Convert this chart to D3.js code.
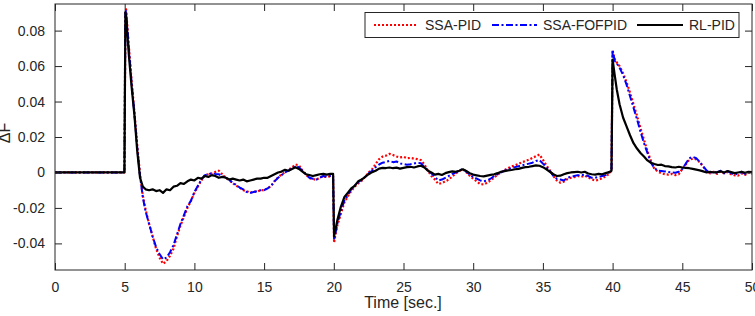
<!DOCTYPE html>
<html><head><meta charset="utf-8">
<script src="https://cdn.jsdelivr.net/npm/d3@7"></script>
<style>body{margin:0;background:#fff}svg{display:block;font-family:Arial,"Liberation Sans",Helvetica,sans-serif}</style>
</head><body><svg id="c" width="755" height="316"></svg>
<script>
const seriesNames = ["SSA-PID","SSA-FOFPID","RL-PID"];
const xTicks = [0,5,10,15,20,25,30,35,40,45,50];
const yTicks = [-0.04,-0.02,0,0.02,0.04,0.06,0.08];
const yTickLabels = ["-0.04","-0.02","0","0.02","0.04","0.06","0.08"];

const time = [0,4.98,5.05,5.1,5.3,5.5,5.7,5.9,6.1,6.3,6.5,6.75,7,7.25,7.5,7.75,8,8.25,8.5,8.75,9,9.25,9.5,9.75,10,10.25,10.5,10.75,11,11.25,11.5,11.75,
12,12.25,12.5,12.75,13,13.25,13.5,13.75,14,14.25,14.5,14.75,15,15.25,15.5,15.75,16,16.25,16.5,16.75,17,17.25,17.5,17.75,18,18.25,18.5,18.75,19,19.25,19.5,19.75,19.95,
20.02,20.1,20.25,20.5,20.75,21,21.25,21.5,21.75,22,22.25,22.5,22.75,23,23.25,23.5,23.75,24,24.25,24.5,24.75,25,25.25,25.5,25.75,26,26.25,26.5,26.75,27,27.25,27.5,27.75,
28,28.25,28.5,28.75,29,29.25,29.5,29.75,30,30.25,30.5,30.75,31,31.25,31.5,31.75,32,32.25,32.5,32.75,33,33.25,33.5,33.75,34,34.25,34.5,34.75,35,35.25,35.5,35.75,
36,36.25,36.5,36.75,37,37.25,37.5,37.75,38,38.25,38.5,38.75,39,39.25,39.5,39.75,39.92,
40,40.15,40.3,40.5,40.75,41,41.25,41.5,41.75,42,42.25,42.5,42.75,43,43.25,43.5,43.75,44,44.25,44.5,44.75,45,45.25,45.5,45.75,46,46.25,46.5,46.75,47,47.25,47.5,47.75,
48,48.25,48.5,48.75,49,49.25,49.5,49.75,50];

const ssaPid = [0,0,0.091,0.092,0.071,0.051,0.034,0.015,-0.001,-0.013,-0.021,-0.029,-0.036,-0.043,-0.048,-0.0515,-0.050,-0.047,-0.043,-0.036,-0.030,-0.025,-0.020,-0.016,-0.0115,-0.008,-0.0045,-0.0015,-0.001,-0.0005,0.0003,0.001,
-0.001,-0.003,-0.0045,-0.006,-0.0075,-0.0085,-0.010,-0.0105,-0.0115,-0.0108,-0.011,-0.0098,-0.0102,-0.0088,-0.0078,-0.0048,-0.0028,-0.0012,0.0002,0.0015,0.0028,0.0045,0.004,0.0012,-0.0012,-0.0032,-0.0036,-0.0042,-0.0028,-0.0022,-0.0026,-0.002,-0.0022,
-0.0396,-0.036,-0.030,-0.0235,-0.017,-0.0135,-0.0105,-0.008,-0.0062,-0.0047,-0.0025,0.0,0.0018,0.0048,0.0075,0.009,0.0095,0.0105,0.0098,0.009,0.0085,0.0088,0.008,0.0082,0.0078,0.0075,0.007,0.0045,0.001,-0.002,-0.004,-0.0065,-0.006,
-0.005,-0.004,-0.0022,-0.0006,0.0008,0.0018,0.0002,-0.0018,-0.0035,-0.005,-0.0065,-0.0068,-0.0058,-0.0045,-0.0028,-0.0012,0.0,0.0014,0.0024,0.0034,0.004,0.0048,0.0058,0.0064,0.0072,0.0082,0.0092,0.0101,0.0072,0.004,0.0012,-0.002,
-0.0045,-0.0058,-0.0052,-0.0038,-0.003,-0.0026,-0.002,-0.0024,-0.0018,-0.0028,-0.0038,-0.0045,-0.0042,-0.0032,-0.0022,-0.0008,0.001,
0.068,0.064,0.062,0.060,0.056,0.051,0.045,0.0385,0.032,0.025,0.0185,0.012,0.0065,0.002,0.0005,-0.0005,-0.001,-0.0012,-0.0008,-0.0015,-0.001,0.002,0.0045,0.0072,0.0078,0.0074,0.0058,0.0032,0.0008,-0.0005,0.0004,-0.0008,0.0006,
-0.0004,0.0002,-0.001,-0.0016,-0.0018,-0.0006,-0.0014,0.0,-0.0008];

const ssaFofpid = [0,0,0.090,0.091,0.070,0.050,0.033,0.014,-0.002,-0.014,-0.022,-0.029,-0.036,-0.042,-0.046,-0.049,-0.048,-0.045,-0.041,-0.035,-0.029,-0.024,-0.019,-0.016,-0.011,-0.0075,-0.004,-0.0015,-0.001,-0.0005,-0.0008,-0.001,
-0.002,-0.003,-0.004,-0.006,-0.007,-0.0085,-0.0095,-0.011,-0.0115,-0.011,-0.0105,-0.010,-0.010,-0.009,-0.0075,-0.005,-0.003,-0.0015,0.0,0.001,0.0022,0.0035,0.003,0.001,-0.001,-0.003,-0.0035,-0.004,-0.003,-0.002,-0.0025,-0.002,-0.002,
-0.038,-0.035,-0.029,-0.022,-0.016,-0.013,-0.0095,-0.0075,-0.0055,-0.004,-0.0025,-0.0005,0.001,0.003,0.0045,0.0055,0.006,0.0065,0.0058,0.0062,0.005,0.0048,0.0044,0.0046,0.005,0.0055,0.0052,0.003,0.0012,-0.0005,-0.0025,-0.0045,-0.004,
-0.003,-0.002,-0.0008,0.0,0.001,0.0022,0.0005,-0.0012,-0.0025,-0.0035,-0.0045,-0.005,-0.0045,-0.0035,-0.002,-0.001,0.0,0.001,0.0018,0.0025,0.003,0.0035,0.004,0.0045,0.005,0.0055,0.0065,0.007,0.005,0.003,0.001,-0.002,
-0.0035,-0.004,-0.0045,-0.003,-0.0025,-0.002,-0.0015,-0.0015,-0.0012,-0.002,-0.003,-0.003,-0.0025,-0.002,-0.0015,0.0,0.002,
0.0693,0.063,0.0615,0.059,0.055,0.0495,0.043,0.0365,0.030,0.023,0.0165,0.011,0.0055,0.0025,0.001,0.0008,0.0006,0.0002,0.0,-0.0002,0.0004,0.002,0.005,0.008,0.0088,0.008,0.006,0.0035,0.001,-0.0002,0.0002,0.0,0.001,
-0.0005,0.0008,-0.0004,-0.0012,-0.0006,0.0004,-0.0008,0.0002,-0.0004];

const rlPid = [0,0,0.0905,0.088,0.066,0.048,0.032,0.012,-0.003,-0.008,-0.0095,-0.010,-0.0095,-0.0105,-0.010,-0.0115,-0.0095,-0.010,-0.008,-0.0075,-0.006,-0.0065,-0.005,-0.004,-0.0045,-0.003,-0.0035,-0.002,-0.0025,-0.0015,-0.002,-0.003,
-0.0025,-0.003,-0.004,-0.0035,-0.004,-0.0045,-0.004,-0.005,-0.0045,-0.004,-0.0035,-0.0035,-0.003,-0.003,-0.002,-0.001,0.0,0.0005,0.0015,0.001,0.002,0.003,0.002,0.0005,-0.001,-0.0015,-0.002,-0.0015,-0.001,-0.0008,-0.0012,-0.0008,-0.0008,
-0.036,-0.033,-0.027,-0.0195,-0.014,-0.0115,-0.009,-0.0075,-0.005,-0.004,-0.0025,-0.001,0.0002,0.001,0.0022,0.0026,0.0025,0.0028,0.0024,0.0027,0.0022,0.0026,0.003,0.0032,0.0028,0.0034,0.0038,0.0028,0.001,0.0,-0.0012,-0.0008,-0.0014,
-0.0004,0.0002,0.0006,0.0004,0.001,0.0018,0.0008,-0.0004,-0.0012,-0.0016,-0.002,-0.0022,-0.0018,-0.0014,-0.001,-0.0004,0.0004,0.0008,0.0012,0.0014,0.0018,0.002,0.0026,0.003,0.0032,0.0036,0.004,0.0038,0.003,0.0018,0.0004,-0.001,
-0.002,-0.0018,-0.001,-0.0004,0.0,0.0002,0.0004,0.0,0.0004,-0.0006,-0.001,-0.0012,-0.0008,-0.001,-0.0004,0.0002,0.001,
0.0637,0.055,0.0468,0.0385,0.031,0.026,0.021,0.0165,0.0135,0.011,0.009,0.0068,0.0055,0.0048,0.0042,0.0044,0.0036,0.0034,0.003,0.0028,0.0032,0.0028,0.0026,0.0024,0.002,0.0016,0.0012,0.0006,0.0,0.0004,0.0,0.0002,0.0006,
0.0,0.0008,0.0002,-0.0004,0.0,0.0004,-0.0002,0.0004,0.0002];

const W = 755, H = 316;
const m = {l:55, r:752, t:4, b:270};
const svg = d3.select("#c");
const x = d3.scaleLinear().domain([0,50]).range([m.l, m.r]);
const y = d3.scaleLinear().domain([-0.055,0.095]).range([m.b, m.t]);
const axisCol = "#262626";

svg.append("clipPath").attr("id","clp").append("rect")
  .attr("x",m.l).attr("y",m.t).attr("width",m.r-m.l).attr("height",m.b-m.t);

const line = d3.line().x(d=>x(d[0])).y(d=>y(d[1]));
const styles = [
  {data: ssaPid, color:"#ff0000", dash:"2,2", w:2.2},
  {data: ssaFofpid, color:"#0000ff", dash:"7,2.5,2,2.5", w:2},
  {data: rlPid, color:"#000000", dash:null, w:2.2}
];
const g = svg.append("g").attr("clip-path","url(#clp)");
styles.forEach(s=>{
  g.append("path").datum(time.map((t,i)=>[t,s.data[i]]))
   .attr("d",line).attr("fill","none").attr("stroke",s.color)
   .attr("stroke-width",s.w).attr("stroke-dasharray",s.dash)
   .attr("stroke-linejoin","round");
});

// axes
const tl = 7;
const xb = svg.append("g").attr("transform",`translate(0,${m.b})`)
  .call(d3.axisBottom(x).tickValues(xTicks).tickSizeInner(-tl).tickSizeOuter(0).tickPadding(12).tickFormat(d3.format("d")));
const xt = svg.append("g").attr("transform",`translate(0,${m.t})`)
  .call(d3.axisTop(x).tickValues(xTicks).tickSizeInner(-tl).tickSizeOuter(0).tickFormat(""));
const yl = svg.append("g").attr("transform",`translate(${m.l},0)`)
  .call(d3.axisLeft(y).tickValues(yTicks).tickSizeInner(-tl).tickSizeOuter(0).tickPadding(10).tickFormat((d,i)=>yTickLabels[i]));
const yr = svg.append("g").attr("transform",`translate(${m.r},0)`)
  .call(d3.axisRight(y).tickValues(yTicks).tickSizeInner(-tl).tickSizeOuter(0).tickFormat(""));
[xb,xt,yl,yr].forEach(a=>{
  a.select(".domain").remove();
  a.selectAll("line").attr("stroke",axisCol).attr("stroke-width",1);
  a.selectAll("text").attr("fill",axisCol).style("font-size","14px").style("font-family","Arial, 'Liberation Sans', sans-serif");
});
svg.append("rect").attr("x",m.l).attr("y",m.t).attr("width",m.r-m.l).attr("height",m.b-m.t)
  .attr("fill","none").attr("stroke",axisCol).attr("stroke-width",1);

svg.append("text").attr("x",403).attr("y",308).attr("text-anchor","middle")
  .attr("fill",axisCol).style("font-size","16px").text("Time [sec.]");
svg.append("text").attr("transform","translate(10,133) rotate(-90)").attr("text-anchor","middle")
  .attr("fill",axisCol).style("font-size","16px").text("ΔF");

// legend
const lg = svg.append("g");
lg.append("rect").attr("x",365).attr("y",12.5).attr("width",374).attr("height",25)
  .attr("fill","#fff").attr("stroke",axisCol).attr("stroke-width",1);
const legItems = [
  {x1:374,x2:418,tx:425},
  {x1:492,x2:537,tx:543},
  {x1:637,x2:683,tx:689}
];
legItems.forEach((L,i)=>{
  const s = styles[i];
  lg.append("line").attr("x1",L.x1).attr("x2",L.x2).attr("y1",25).attr("y2",25)
    .attr("stroke",s.color).attr("stroke-width",s.w).attr("stroke-dasharray",s.dash);
  lg.append("text").attr("x",L.tx).attr("y",30).attr("fill",axisCol)
    .style("font-size","14px").text(seriesNames[i]);
});
</script></body></html>
